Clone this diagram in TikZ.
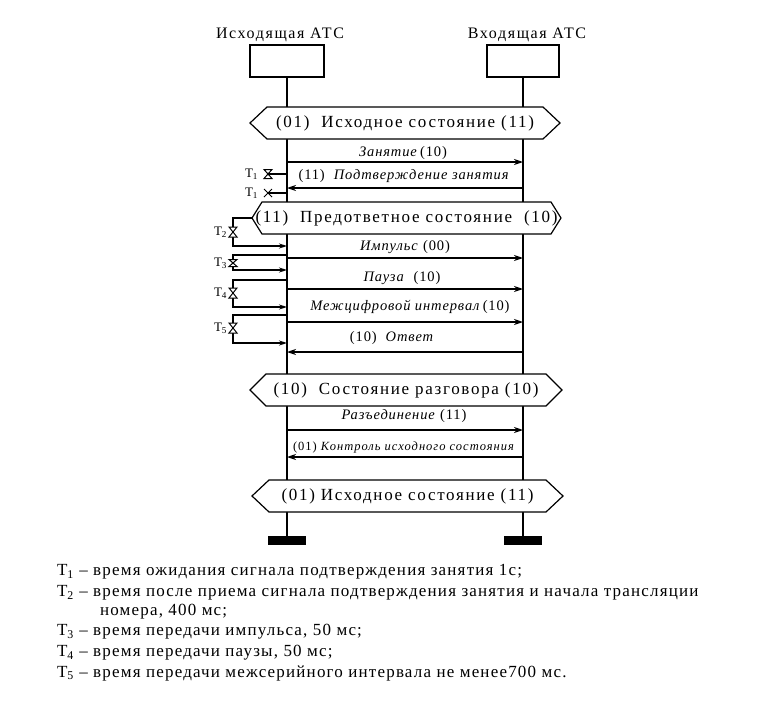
\documentclass[tikz,border=0pt]{standalone}
\usepackage{fontspec}
\setmainfont{Liberation Serif}
\newfontfamily\spaced[LetterSpace=10]{Liberation Serif}
\newfontfamily\lspaced[LetterSpace=6]{Liberation Serif}
\newfontfamily\gspaced[LetterSpace=7]{Liberation Serif}
\newfontfamily\sspaced[LetterSpace=8]{Liberation Serif}
\usetikzlibrary{arrows.meta}
\newcommand\statehex[6]{% name, y, xl, xr, depth, text
  \coordinate (#1W) at (#3,#2);
  \coordinate (#1E) at (#4,#2);
  \draw[hexa] (#1W) -- ({#3+#5},{#2-16}) -- ({#4-#5},{#2-16}) -- (#1E) -- ({#4-#5},{#2+16}) -- ({#3+#5},{#2+16}) -- cycle;
  \node[statetxt] (#1) at ({(#3+#4)/2},#2) {#6};}
\newcommand\hglass[2][5]{\draw[line width=1pt, fill=white, shift={(#2)}] (-4,-#1) -- (4,-#1) -- (-4,#1) -- (4,#1) -- cycle;}
\newcommand\xcross[1]{\draw[line width=1pt, shift={(#1)}] (-4,-4) -- (4,4) (-4,4) -- (4,-4);}
\begin{document}
\begin{tikzpicture}[x=1pt,y=-1pt,
  every node/.style={inner sep=0pt, outer sep=0pt},
  hdr/.style={font=\fontsize{16}{19}\selectfont\spaced},
  boxnode/.style={draw, line width=1.2pt, minimum width=74pt, minimum height=32pt},
  life/.style={line width=1.2pt},
  msg/.style={line width=1.2pt, -{Stealth[length=9pt,width=6pt]}},
  brk/.style={line width=1.2pt, -{Stealth[length=8pt,width=5pt]}},
  hexa/.style={draw, line width=1.2pt, fill=white},
  statetxt/.style={font=\fontsize{17}{20}\selectfont\spaced},
  lbl/.style={font=\fontsize{14.5}{17}\selectfont\lspaced},
  slbl/.style={font=\fontsize{12.5}{15}\selectfont\sspaced},
  tlbl/.style={font=\fontsize{13}{15}\selectfont, anchor=east},
  bar/.style={fill=black, minimum width=38pt, minimum height=9pt},
  legend/.style={font=\fontsize{17}{20}\selectfont\gspaced, anchor=west}
]
\useasboundingbox (0,0) rectangle (780,707);
% headers and boxes
\node[hdr] (hL) at (280,35) {Исходящая АТС};
\node[hdr] (hR) at (527,35) {Входящая АТС};
\node[boxnode] (bL) at (287,61) {};
\node[boxnode, minimum width=72pt] (bR) at (523,61) {};
\node[bar] (barL) at (287,540) {};
\node[bar] (barR) at (523,540) {};
\draw[life] (bL.south) -- (barL.north);
\draw[life] (bR.south) -- (barR.north);
% states
\statehex{s1}{123}{250}{560}{17}{(01)\ \ Исходное состояние (11)}
\statehex{s2}{218}{252}{561}{10}{(11)\ \ Предответное состояние\ \ (10)}
\statehex{s3}{390}{250}{562}{16}{(10)\ \ Состояние разговора (10)}
\statehex{s4}{496}{252}{563}{17}{(01)\ Исходное состояние (11)}
% messages
\coordinate (y1) at (0,162);
\draw[msg] (bL |- y1) -- (bR |- y1);
\node[lbl] (m1) at (403,153) {\textit{Занятие}\,(10)};
\coordinate (y2) at (0,188);
\draw[msg] (bR |- y2) -- (bL |- y2);
\node[lbl] (m2) at (404,176) {(11)\ \ \textit{Подтверждение занятия}};
\coordinate (y3) at (0,258);
\draw[msg] (bL |- y3) -- (bR |- y3);
\node[lbl] (m3) at (405,247) {\textit{Импульс}\ (00)};
\coordinate (y4) at (0,289);
\draw[msg] (bL |- y4) -- (bR |- y4);
\node[lbl] (m4) at (402,278) {\textit{Пауза}\ \ (10)};
\coordinate (y5) at (0,322);
\draw[msg] (bL |- y5) -- (bR |- y5);
\node[lbl] (m5) at (410,307) {\textit{Межцифровой интервал}\,(10)};
\coordinate (y6) at (0,352);
\draw[msg] (bR |- y6) -- (bL |- y6);
\node[lbl] (m6) at (392,338) {(10)\ \ \textit{Ответ}};
\coordinate (y7) at (0,430);
\draw[msg] (bL |- y7) -- (bR |- y7);
\node[lbl] (m7) at (404,416) {\textit{Разъединение}\ (11)};
\coordinate (y8) at (0,457);
\draw[msg] (bR |- y8) -- (bL |- y8);
\node[slbl] (m8) at (404,447) {(01) \textit{Контроль исходного состояния}};
% timer T1
\coordinate (hg1) at (268,174);
\draw[life] (bL |- hg1) -- (hg1);
\hglass[4.5]{hg1}
\node[tlbl] (t1a) at (258,174) {T\textsubscript{1}};
\coordinate (cx1) at (268,193);
\draw[life] (bL |- cx1) -- (cx1);
\xcross{cx1}
\node[tlbl] (t1b) at (258,193) {T\textsubscript{1}};
% timer T2
\coordinate (t2a) at (233,218);
\coordinate (t2b) at (233,246);
\coordinate (t2h) at (233,232);
\draw[brk] (s2W) -- (t2a) -- (t2b) -- (bL |- t2b);
\hglass{t2h}
\node[tlbl] (t2) at (227,232) {T\textsubscript{2}};
% timer T3
\coordinate (t3a) at (233,255);
\coordinate (t3b) at (233,270);
\coordinate (t3h) at (233,263);
\draw[brk] (bL |- t3a) -- (t3a) -- (t3b) -- (bL |- t3b);
\hglass[3.5]{t3h}
\node[tlbl] (t3) at (227,263) {T\textsubscript{3}};
% timer T4
\coordinate (t4a) at (233,280);
\coordinate (t4b) at (233,307);
\coordinate (t4h) at (233,293);
\draw[brk] (bL |- t4a) -- (t4a) -- (t4b) -- (bL |- t4b);
\hglass{t4h}
\node[tlbl] (t4) at (227,293) {T\textsubscript{4}};
% timer T5
\coordinate (t5a) at (233,315);
\coordinate (t5b) at (233,343);
\coordinate (t5h) at (233,328);
\draw[brk] (bL |- t5a) -- (t5a) -- (t5b) -- (bL |- t5b);
\hglass{t5h}
\node[tlbl] (t5) at (227,328) {T\textsubscript{5}};
% legend
\node[legend] (g1) at (57,572) {Т\textsubscript{1} – время ожидания сигнала подтверждения занятия 1с;};
\node[legend] (g2) at (57,593) {Т\textsubscript{2} – время после приема сигнала подтверждения занятия и начала трансляции};
\node[legend] (g3) at (100,612) {номера, 400 мс;};
\node[legend] (g4) at (57,632) {Т\textsubscript{3} – время передачи импульса, 50 мс;};
\node[legend] (g5) at (57,653) {Т\textsubscript{4} – время передачи паузы, 50 мс;};
\node[legend] (g6) at (57,673) {Т\textsubscript{5} – время передачи межсерийного интервала не менее700 мс.};
\end{tikzpicture}
\end{document}
